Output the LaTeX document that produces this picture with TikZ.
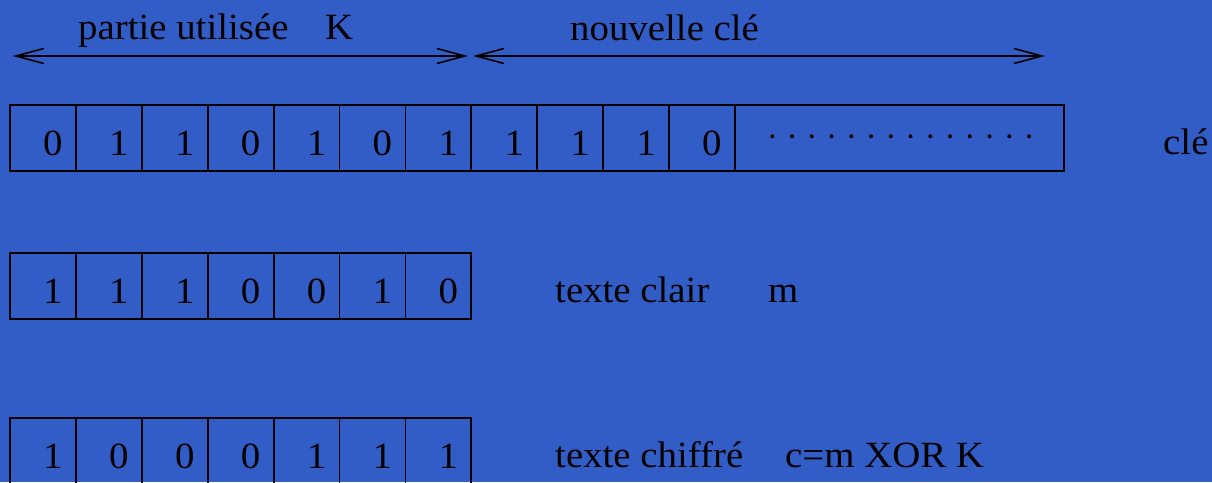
\documentclass[tikz,border=0pt]{standalone}
\usepackage{fontspec}
\setmainfont[FakeStretch=1.05]{Liberation Serif}
\usetikzlibrary{arrows.meta}
\definecolor{bg}{RGB}{50,92,198}
\begin{document}
\begin{tikzpicture}[x=1pt,y=-1pt,
  font=\fontsize{37}{44}\selectfont,
  cell/.style={draw, line width=1.8pt, minimum width=65.9pt, minimum height=66pt, inner sep=0pt, outer sep=0pt, anchor=north west},
  bit/.style={anchor=base, inner sep=0pt},
  lbl/.style={anchor=base west, inner sep=0pt},
  dim/.style={line width=1.6pt, {Straight Barb[length=28pt,width=15pt]}-{Straight Barb[length=28pt,width=15pt]}}]
\fill[bg] (0,0) rectangle (1212,482);
\useasboundingbox (0,0) rectangle (1212,482);
% key row
\foreach \b [count=\i from 0] in {0,1,1,0,1,0,1,1,1,1,0} {
  \node[cell] (k\i) at ({10+65.9*\i},105.3) {};
  \node[bit] (kb\i) at ([xshift=10pt,yshift=-17pt]k\i.center) {\b};
}
\node[cell, minimum width=329.1pt] (kr) at (734.9,105.3) {};
\foreach \j in {0,...,13} \fill ({772.3+19.75*\j},136.3) circle (2pt);
% plain text row
\foreach \b [count=\i from 0] in {1,1,1,0,0,1,0} {
  \node[cell] (m\i) at ({10+65.9*\i},253.3) {};
  \node[bit] (mb\i) at ([xshift=10pt,yshift=-17pt]m\i.center) {\b};
}
% cipher row
\foreach \b [count=\i from 0] in {1,0,0,0,1,1,1} {
  \node[cell] (c\i) at ({10+65.9*\i},418) {};
  \node[bit] (cb\i) at ([xshift=10pt,yshift=-17pt]c\i.center) {\b};
}
% labels
\node[lbl] (pu) at (78,39.5) {partie utilisée};
\node[lbl] (kk) at (325,39.5) {K};
\node[lbl] (nc) at (570,40) {nouvelle clé};
\node[lbl] (cle) at (1163,154) {clé};
\node[lbl] (tc) at (555,302) {texte clair};
\node[lbl] (mm) at (768,302) {m};
\node[lbl] (tch) at (555,467) {texte chiffré};
\node[lbl] (cx) at (785,467) {c=m XOR K};
% dimension arrows
\coordinate (a1) at (12.7,56);
\coordinate (a2) at (468,56);
\coordinate (b1) at (473,56);
\coordinate (b2) at (1045,56);
\draw[dim] (a1) -- (a2);
\draw[dim] (b1) -- (b2);
\end{tikzpicture}
\end{document}
